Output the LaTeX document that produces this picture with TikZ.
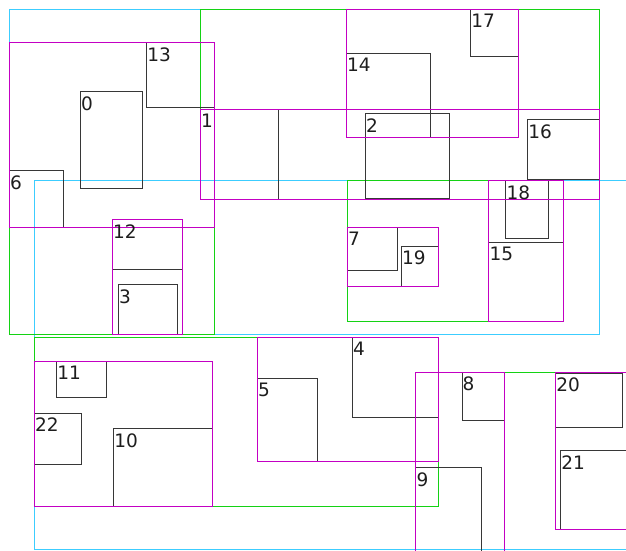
\documentclass[tikz,border=0pt]{standalone}
\usepackage{fontspec}
\setmainfont{DejaVu Sans}
\definecolor{cyanc}{RGB}{60,205,255}
\definecolor{greenc}{RGB}{20,210,20}
\definecolor{purplec}{RGB}{195,0,195}
\definecolor{leafc}{RGB}{55,55,55}
\definecolor{textc}{RGB}{30,30,30}
\tikzset{
  lvcyan/.style={draw=cyanc,line width=1.4pt},
  lvgreen/.style={draw=greenc,line width=1.4pt},
  lvpurple/.style={draw=purplec,line width=1.4pt},
  lvleaf/.style={draw=leafc,line width=1.4pt},
  lbl/.style={anchor=north west,inner sep=0pt,outer sep=0pt,text=textc,font=\fontsize{18.5}{18.5}\selectfont}
}
\begin{document}
\begin{tikzpicture}[x=1pt,y=-1pt]
\useasboundingbox (0,0) rectangle (626,550);
\clip (0,0) rectangle (626,550);
\fill[white] (0,0) rectangle (626,550);
\begin{scope}[shift={(-0.5,-0.5)}]
% cyan containers
\draw[lvcyan] (10,10) rectangle (600,335);
\draw[lvcyan] (35,181) rectangle (640,550);
% green containers
\draw[lvgreen] (201,10) rectangle (600,200);
\draw[lvgreen] (10,43) rectangle (215,335);
\draw[lvgreen] (348,181) rectangle (564,322);
\draw[lvgreen] (35,338) rectangle (439,507);
\draw[lvgreen] (416,373) rectangle (640,556);
% leaves
\draw[lvleaf] (81,92) rectangle (143,189);
\draw[lvleaf] (201,110) rectangle (279,200);
\draw[lvleaf] (366,114) rectangle (450,199);
\draw[lvleaf] (119,285) rectangle (178,335);
\draw[lvleaf] (353,338) rectangle (439,418);
\draw[lvleaf] (258,379) rectangle (318,462);
\draw[lvleaf] (10,171) rectangle (64,228);
\draw[lvleaf] (348,228) rectangle (398,271);
\draw[lvleaf] (463,373) rectangle (505,421);
\draw[lvleaf] (416,468) rectangle (482,556);
\draw[lvleaf] (114,429) rectangle (213,507);
\draw[lvleaf] (57,362) rectangle (107,398);
\draw[lvleaf] (113,220) rectangle (183,270);
\draw[lvleaf] (147,43) rectangle (215,108);
\draw[lvleaf] (347,54) rectangle (431,138);
\draw[lvleaf] (489,243) rectangle (564,322);
\draw[lvleaf] (528,120) rectangle (600,180);
\draw[lvleaf] (471,10) rectangle (519,57);
\draw[lvleaf] (506,181) rectangle (549,239);
\draw[lvleaf] (402,247) rectangle (439,287);
\draw[lvleaf] (556,374) rectangle (623,428);
\draw[lvleaf] (561,451) rectangle (640,530);
\draw[lvleaf] (35,414) rectangle (82,465);
% purple containers
\draw[lvpurple] (10,43) rectangle (215,228);
\draw[lvpurple] (201,110) rectangle (600,200);
\draw[lvpurple] (347,10) rectangle (519,138);
\draw[lvpurple] (489,181) rectangle (564,322);
\draw[lvpurple] (348,228) rectangle (439,287);
\draw[lvpurple] (113,220) rectangle (183,335);
\draw[lvpurple] (35,362) rectangle (213,507);
\draw[lvpurple] (258,338) rectangle (439,462);
\draw[lvpurple] (416,373) rectangle (505,556);
\draw[lvpurple] (556,373) rectangle (640,530);
\end{scope}
% labels
\node[lbl] (l0) at (81,96.4) {0};
\node[lbl] (l1) at (201,114.4) {1};
\node[lbl] (l2) at (366,118.4) {2};
\node[lbl] (l3) at (119,289.4) {3};
\node[lbl] (l4) at (353,342.4) {4};
\node[lbl] (l5) at (258,383.4) {5};
\node[lbl] (l6) at (10,175.4) {6};
\node[lbl] (l7) at (348,232.4) {7};
\node[lbl] (l8) at (462.7,377) {8};
\node[lbl] (l9) at (416.5,473) {9};
\node[lbl] (l10) at (114.3,434) {10};
\node[lbl] (l11) at (57.3,366.4) {11};
\node[lbl] (l12) at (113,224.4) {12};
\node[lbl] (l13) at (147.3,47.4) {13};
\node[lbl] (l14) at (347,58.4) {14};
\node[lbl] (l15) at (489.5,247.4) {15};
\node[lbl] (l16) at (528.3,124.7) {16};
\node[lbl] (l17) at (471.3,14.4) {17};
\node[lbl] (l18) at (506.5,185.4) {18};
\node[lbl] (l19) at (402,251) {19};
\node[lbl] (l20) at (556.3,378) {20};
\node[lbl] (l21) at (561.3,455.7) {21};
\node[lbl] (l22) at (35,418) {22};
\end{tikzpicture}
\end{document}
